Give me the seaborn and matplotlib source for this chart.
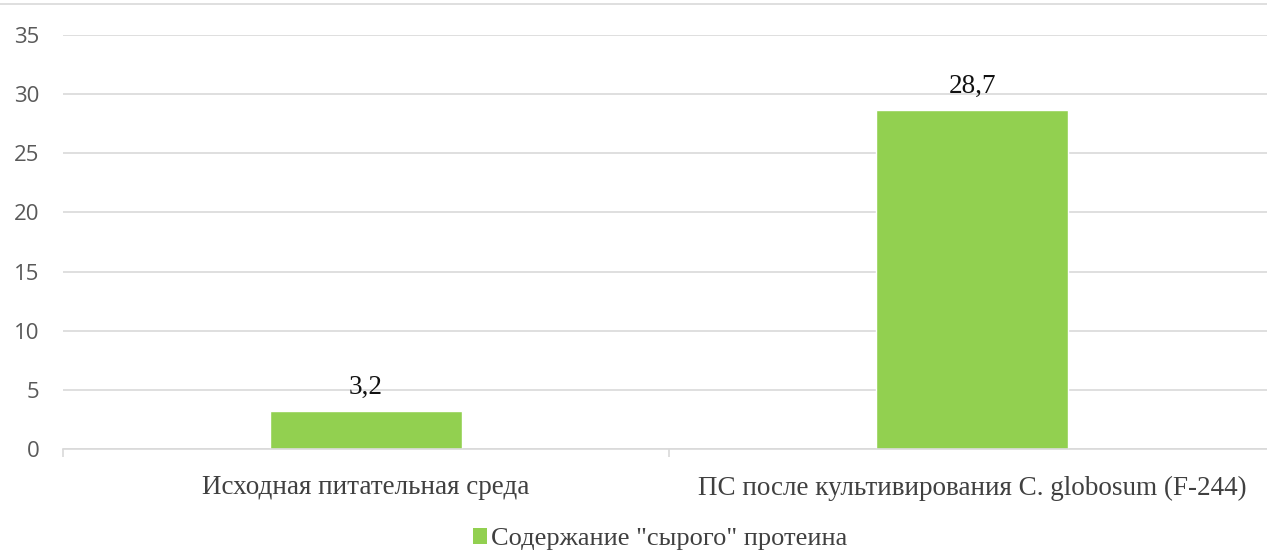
import matplotlib
matplotlib.use("Agg")
import matplotlib.pyplot as plt
from matplotlib.lines import Line2D
from matplotlib.patches import Patch
import seaborn as sns
import pandas as pd

categories = ["Исходная питательная среда",
              "ПС после культивирования C. globosum (F-244)"]
values = [3.2, 28.7]
value_labels = ["3,2", "28,7"]
series_name = 'Содержание "сырого" протеина'
yticks = [0, 5, 10, 15, 20, 25, 30, 35]

sns.set_theme(style="white")
plt.rcParams["font.family"] = ["Liberation Serif", "DejaVu Serif"]

W, H = 1267, 552
fig = plt.figure(figsize=(W / 100, H / 100), dpi=100)
ax = fig.add_axes([63 / W, 103 / H, 1212 / W, 414 / H])

df = pd.DataFrame({"cat": categories, "val": values})
sns.barplot(data=df, x="cat", y="val", color="#92D050", width=0.316,
            saturation=1, ax=ax)

ax.set_ylim(0, 35)
ax.set_xlim(-0.5, 1.5)
ax.set_yticks(yticks)
ax.set_yticklabels([str(t) for t in yticks], fontfamily="Open Sans",
                   fontsize=16, color="#595959")
ax.yaxis.grid(True, color="#D9D9D9", linewidth=1.2)
ax.set_axisbelow(True)
ax.tick_params(axis="y", length=0, pad=17)

# category separators drawn as minor ticks on the x axis
ax.set_xticks([0, 1])
ax.set_xticklabels(categories, fontsize=19.5, color="#404040")
ax.set_xticks([-0.5, 0.5], minor=True)
ax.tick_params(axis="x", which="major", length=0, pad=19)
ax.tick_params(axis="x", which="minor", length=6, width=1.2,
               color="#D9D9D9", bottom=True)

for s in ["top", "right", "left"]:
    ax.spines[s].set_visible(False)
ax.spines["bottom"].set_color("#D9D9D9")
ax.spines["bottom"].set_linewidth(1.2)
ax.set_xlabel("")
ax.set_ylabel("")

for i, (v, lab) in enumerate(zip(values, value_labels)):
    ax.annotate(lab, (i, v), xytext=(0, 8), textcoords="offset points",
                ha="center", va="bottom", fontsize=19.5, color="#111111")

# thin frame line along the top of the chart area
fig.add_artist(Line2D([0, 1], [1 - 4 / H, 1 - 4 / H], transform=fig.transFigure,
                      color="#D9D9D9", linewidth=1.2))

handle = Patch(facecolor="#92D050", edgecolor="none")
fig.legend([handle], [series_name], loc="center", bbox_to_anchor=(660 / W, 1 - 539 / H),
           frameon=False, fontsize=19, handlelength=0.55, handleheight=0.55,
           handletextpad=0.15, labelcolor="#404040")

fig.savefig("out.png", dpi=100)
